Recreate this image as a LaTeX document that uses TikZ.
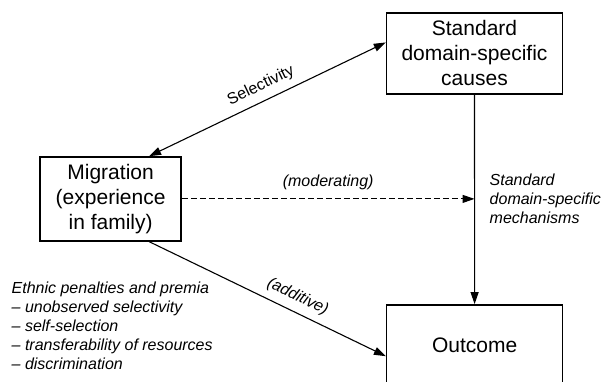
\documentclass[tikz,border=0pt]{standalone}
\usepackage{fontspec}
\setmainfont{Liberation Sans}
\usetikzlibrary{arrows.meta,positioning,calc}

\begin{document}
\begin{tikzpicture}[
    x=1pt, y=-1pt,
    box/.style={draw, line width=1.4pt, minimum width=176pt, minimum height=81pt,
      inner sep=0pt, align=center, font=\fontsize{21}{25}\selectfont},
    pile/.style={line width=1.1pt, -{Triangle[length=12pt,width=8pt]}},
    twopile/.style={line width=1.1pt, {Triangle[length=12pt,width=8pt]}-{Triangle[length=12pt,width=8pt]}},
    dashed line/.style={pile, dash pattern=on 6pt off 3pt},
    lbl/.style={inner sep=0pt, font=\fontsize{16}{19}\selectfont},
    ilbl/.style={lbl, font=\fontsize{16}{19}\selectfont\itshape, align=left}
    ]

\useasboundingbox (0,0) rectangle (601,381);

% boxes
\node[box] (causes) at (474.5,53.3) {Standard\\domain-specific\\causes};
\node[box, minimum width=141pt, minimum height=84pt] (mig) at (110.6,198.9)
	{Migration\\(experience\\in family)};
\node[box] (out) at (474.6,345.3) {Outcome};

\coordinate (mid) at (mig.east -| causes.south);

% arrows
\draw[twopile] (mig.48.7) -- (causes.173.5)
	node[lbl, midway, sloped, above=7pt] (sel) {Selectivity};
\draw[pile] (causes.south) -- (out.north);
\draw[dashed line] (mig.east) -- (mid)
	node[lbl, font=\fontsize{16}{19}\selectfont\itshape, midway, above=9pt] (mod) {(moderating)};
\draw[pile] (mig.-48.7) -- (out.187.6)
	node[lbl, font=\fontsize{16}{19}\selectfont\itshape, pos=0.6, sloped, above=7pt] (add) {(additive)};

% texts
\node[ilbl, right=15pt of mid] (mech)
	{Standard\\domain-specific\\mechanisms};
\node[ilbl, anchor=west] (ethnic) at (11.5,325.4)
	{Ethnic penalties and premia\\– unobserved selectivity\\– self-selection\\%
	– transferability of resources\\– discrimination};

\end{tikzpicture}
\end{document}
